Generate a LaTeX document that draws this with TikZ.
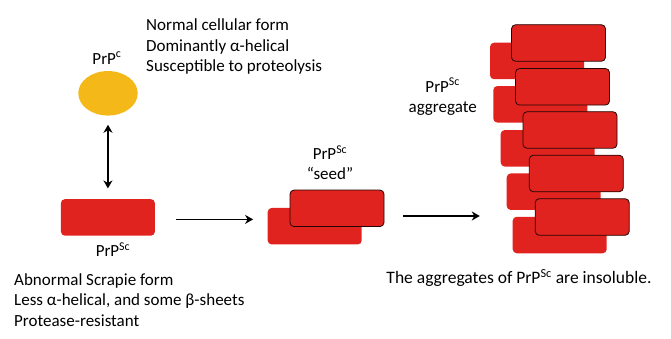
\documentclass[tikz,border=0pt]{standalone}
\usepackage{fontspec}
\setmainfont{Carlito}
\usepackage{xcolor}
\usepackage{tikz}
\usetikzlibrary{shapes.geometric, arrows.meta, positioning, calc}

\definecolor{prpred}{HTML}{E0231E}
\definecolor{prporange}{HTML}{F4B818}

\begin{document}
\begin{tikzpicture}[x=1pt, y=-1pt,
  every node/.style={font=\fontsize{17}{20.3}\selectfont},
  brick/.style={rectangle, fill=prpred, rounded corners=4pt,
                minimum width=94pt, minimum height=36.5pt, inner sep=0pt},
  brickline/.style={brick, draw=black!85!prpred, line width=0.8pt},
  lbl/.style={align=center, inner sep=0pt},
  txt/.style={align=left, anchor=west, inner sep=0pt},
  arr/.style={-{Stealth[length=8pt, width=9pt, inset=2.5pt]}, line width=1.8pt}
]
  \useasboundingbox (0,0) rectangle (671,339);

  % normal form
  \node[ellipse, fill=prporange, minimum width=59.5pt, minimum height=44.5pt, inner sep=0pt] (prpc) at (108,93.3) {};
  \node[lbl] (prpclbl) at (107,58) {PrP\textsuperscript{c}};
  \node[txt] (normtxt) at (146,46.5) {Normal cellular form\\Dominantly α-helical\\Susceptible to proteolysis};

  % scrapie form
  \node[brick] (sc) at (107.9,217.4) {};
  \node[lbl] (sclbl) at (113,250) {PrP\textsuperscript{Sc}};
  \node[txt] (sctxt) at (14,300) {Abnormal Scrapie form\\Less α-helical, and some β-sheets\\Protease-resistant};

  % seed
  \node[brick] (seedb) at (314.7,226.2) {};
  \node[brickline] (seedf) at (337,208.3) {};
  \node[lbl] (seedlbl) at (330,162.5) {PrP\textsuperscript{Sc}\\``seed''};

  % aggregate
  \node[brick] (aggb0) at (537,61) {};
  \node[brick] (aggb1) at (540.3,104.3) {};
  \node[brick] (aggb2) at (547.7,148.3) {};
  \node[brick] (aggb3) at (553.7,191.7) {};
  \node[brick] (aggb4) at (559.7,235) {};
  \node[brickline] (aggf0) at (558.5,43) {};
  \node[brickline] (aggf1) at (562.5,86.8) {};
  \node[brickline] (aggf2) at (570,130) {};
  \node[brickline] (aggf3) at (576.3,173.5) {};
  \node[brickline] (aggf4) at (582.2,217) {};
  \node[lbl] (agglbl) at (442.7,96.7) {PrP\textsuperscript{Sc}\\aggregate};
  \node[lbl, font=\fontsize{17.5}{20}\selectfont] (aggtxt) at (519,278) {The aggregates of PrP\textsuperscript{Sc} are insoluble.};

  \draw[arr, {Stealth[length=8pt, width=9pt, inset=2.5pt]}-{Stealth[length=8pt, width=9pt, inset=2.5pt]},
        shorten <=9pt, shorten >=10.5pt] (prpc.south) -- (sc.north);
  \draw[arr, shorten <=20.7pt, shorten >=14.4pt] ([yshift=-2pt]sc.east) -- ([yshift=-2pt]sc.east -| seedb.west);
  \draw[arr, shorten <=18.7pt, shorten >=26.7pt] ([yshift=-7.7pt]seedf.east) -- ([yshift=-7.7pt]seedf.east -| aggb3.west);
\end{tikzpicture}
\end{document}
